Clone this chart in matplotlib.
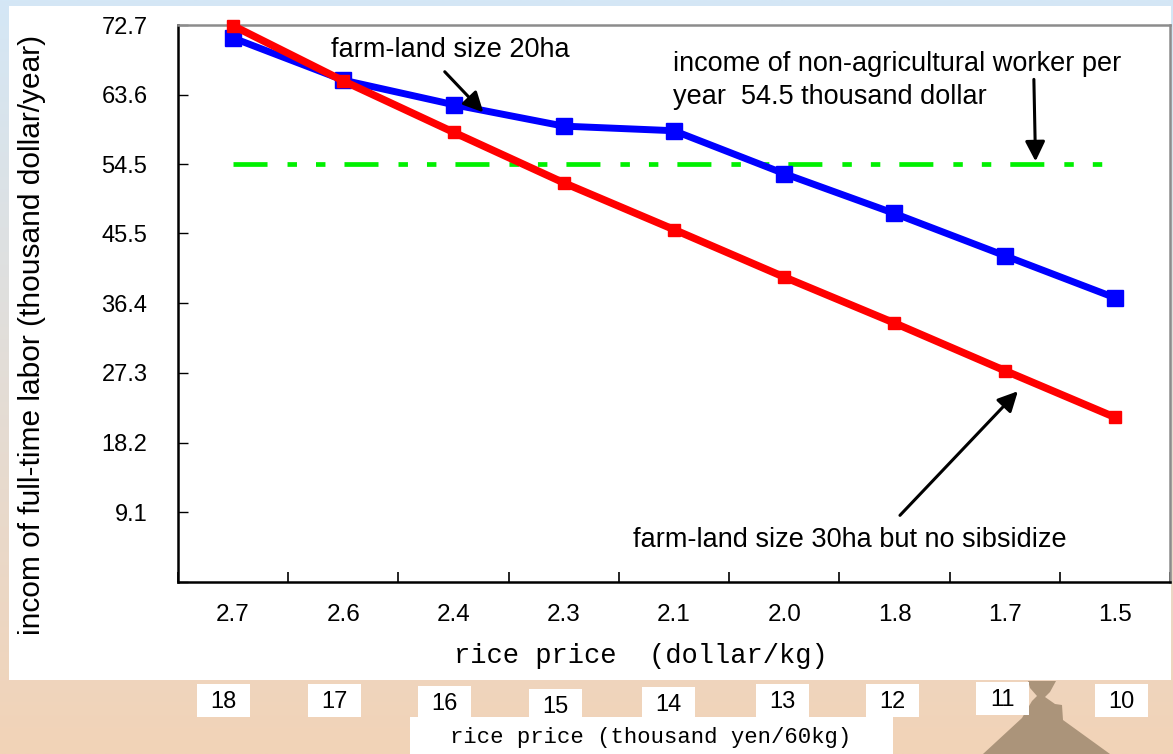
import numpy as np
import matplotlib
matplotlib.use("Agg")
import matplotlib.pyplot as plt
from matplotlib.patches import Rectangle, Polygon
import matplotlib.colors as mcolors

plt.rcParams['font.family'] = ['Liberation Sans', 'DejaVu Sans']
plt.rcParams['lines.scale_dashes'] = False

# ---- data ----
price_dollar = ["2.7", "2.6", "2.4", "2.3", "2.1", "2.0", "1.8", "1.7", "1.5"]
price_yen = ["18", "17", "16", "15", "14", "13", "12", "11", "10"]
income_20ha = [71.0, 65.5, 62.3, 59.5, 58.9, 53.3, 48.1, 42.6, 37.1]
income_30ha_nosub = [72.6, 65.4, 58.7, 52.1, 46.0, 39.8, 33.8, 27.6, 21.5]
income_nonag = 54.5
ytick_vals = [0, 9.1, 18.2, 27.3, 36.4, 45.5, 54.5, 63.6, 72.7]
ytick_labels = ["", "9.1", "18.2", "27.3", "36.4", "45.5", "54.5", "63.6", "72.7"]

W, H = 1173, 754
fig = plt.figure(figsize=(W / 100, H / 100), dpi=100)

# background gradient
bg = fig.add_axes([0, 0, 1, 1], zorder=-10)
bg.set_axis_off()
c_top = np.array(mcolors.to_rgb("#d4e7f6"))
c_bot = np.array(mcolors.to_rgb("#f2d3b7"))
t = np.linspace(0, 1, 256)[:, None]
grad = c_top[None, None, :] * (1 - t[:, :, None]) + c_bot[None, None, :] * t[:, :, None]
grad = np.repeat(grad, 2, axis=1)
bg.imshow(grad, aspect='auto', extent=[0, 1, 0, 1], origin='upper')
bg.set_xlim(0, 1)
bg.set_ylim(0, 1)

def fx(px):
    return px / W

def fy(py):
    return 1 - py / H

# white panel
bg.add_patch(Rectangle((fx(9), fy(680)), fx(1171) - fx(9), fy(6) - fy(680),
                       facecolor="white", edgecolor="none", zorder=1))
# pagoda silhouette
pag = [(1028, 681), (1056, 681), (1050, 692), (1045, 697), (1055, 704), (1062, 705),
       (1063, 720), (1110, 754), (983, 754), (1022, 718), (1032, 701), (1037, 696), (1030, 688)]
bg.add_patch(Polygon([(fx(a), fy(b)) for a, b in pag], closed=True,
                     facecolor="#ab947a", edgecolor="none", zorder=1))

# yen labels in white boxes
yen_boxes = [(197, 684), (308, 684), (418, 686), (529, 689), (642, 687),
             (756, 684), (866, 684), (976, 682), (1095, 684)]
for lab, (bx, by) in zip(price_yen, yen_boxes):
    bg.add_patch(Rectangle((fx(bx), fy(by + 33)), fx(53), 33 / H,
                           facecolor="white", edgecolor="none", zorder=3))
    bg.text(fx(bx + 26.5), fy(by + 18), lab, ha='center', va='center',
            fontsize=17, color='black', zorder=4)
bg.add_patch(Rectangle((fx(410), 0), fx(893) - fx(410), fy(717),
                       facecolor="white", edgecolor="none", zorder=3))
bg.text(fx(651), fy(738), "rice price (thousand yen/60kg)", ha='center', va='center',
        fontsize=16, family=['Liberation Mono'], zorder=4)

# main axes
ax = fig.add_axes([fx(178), fy(582), fx(1170) - fx(178), fy(25) - fy(582)])
ax.set_facecolor("none")
x = np.arange(len(price_dollar))

ax.plot([x[0], x[-1]], [income_nonag, income_nonag], color="#00f000", lw=3.4,
        dashes=(24.5, 14.4, 6.8, 13.7, 6.8, 13.7), solid_capstyle='butt',
        dash_capstyle='butt', zorder=2)
ax.plot(x, income_20ha, color="#0000ff", lw=5.0, marker='s', markersize=11,
        zorder=3, clip_on=False)
ax.plot(x, income_30ha_nosub, color="#ff0000", lw=5.4, marker='s', markersize=8.8,
        zorder=4, clip_on=False)

ax.set_xlim(-0.5, len(x) - 0.5)
ax.set_ylim(0, 72.7)
ax.set_xticks(np.arange(len(x) + 1) - 0.5, minor=False)
ax.set_xticklabels([])
ax.set_xticks(x, minor=True)
ax.set_xticklabels(price_dollar, minor=True)
ax.tick_params(axis='x', which='major', direction='in', length=7, width=1.2, color='black')
ax.tick_params(axis='x', which='minor', length=0, pad=16, labelsize=17.5)
ax.set_yticks(ytick_vals)
ax.set_yticklabels(ytick_labels)
ax.tick_params(axis='y', direction='in', length=7, width=1, pad=22, labelsize=17)

for s in ['left', 'bottom']:
    ax.spines[s].set_color('black')
    ax.spines[s].set_linewidth(1.8)
for s in ['top', 'right']:
    ax.spines[s].set_color('#8c8c8c')
    ax.spines[s].set_linewidth(1.8)

arrow = dict(arrowstyle='-|>', color='black', lw=2.2, mutation_scale=30,
             shrinkA=0, shrinkB=0)

fs_ann = 19.5
ax.text(0.89, 69.4, "farm-land size 20ha", ha='left', va='center', fontsize=fs_ann)
ax.annotate("", xy=(2.27, 61.3), xytext=(1.92, 66.6), arrowprops=arrow)

ax.text(3.99, 67.6, "income of non-agricultural worker per", ha='left', va='center', fontsize=fs_ann)
ax.text(3.99, 63.3, "year  54.5 thousand dollar", ha='left', va='center', fontsize=fs_ann)
ax.annotate("", xy=(7.28, 54.9), xytext=(7.265, 65.6), arrowprops=arrow)

ax.text(3.63, 5.5, "farm-land size 30ha but no sibsidize", ha='left', va='center', fontsize=fs_ann)
ax.annotate("", xy=(7.12, 24.9), xytext=(6.05, 8.7), arrowprops=arrow)

fig.text(fx(641), fy(656), "rice price  (dollar/kg)", ha='center', va='center',
         fontsize=19.5, family=['Liberation Mono'])
fig.text(fx(32), fy(335), "incom of full-time labor (thousand dollar/year)", ha='center',
         va='center', rotation=90, fontsize=21.5)

fig.savefig("out.png", dpi=100)
